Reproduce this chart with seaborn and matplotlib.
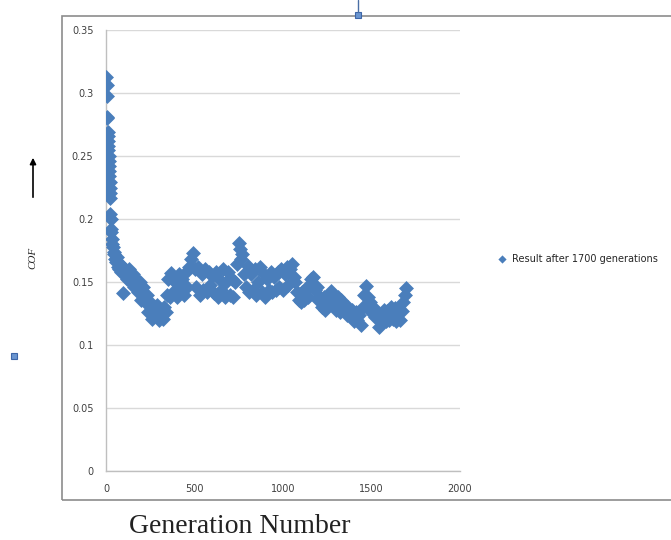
import numpy as np
import pandas as pd
import matplotlib
matplotlib.use('Agg')
import matplotlib.pyplot as plt
import seaborn as sns
from matplotlib.patches import Rectangle, FancyArrowPatch
from matplotlib.lines import Line2D

# ---------------------------------------------------------------------------
# Data read off the reference (COF per generation, sampled)
# ---------------------------------------------------------------------------
generation = [
    2, 3, 4, 6, 8, 10, 11, 12, 13, 14, 15, 16, 17, 18, 19, 20, 21, 22, 23, 25,
    26, 28, 30, 33, 36, 40, 44, 48, 52, 56, 60, 65, 70, 75, 80, 85, 90, 96, 100, 110,
    120, 130, 140, 150, 160, 170, 180, 190, 200, 210, 220, 230, 240, 250, 260, 270, 280, 290, 300, 310,
    320, 330, 340, 345, 350, 360, 370, 380, 390, 400, 410, 420, 430, 440, 450, 460, 470, 480, 490, 500,
    510, 520, 530, 540, 550, 560, 570, 580, 590, 600, 610, 620, 630, 640, 650, 660, 670, 680, 690, 700,
    710, 720, 730, 740, 750, 755, 760, 770, 780, 790, 800, 810, 820, 830, 840, 850, 860, 870, 880, 890,
    900, 910, 920, 930, 940, 950, 960, 970, 980, 990, 1000, 1010, 1020, 1030, 1040, 1050, 1060, 1070, 1080, 1090,
    1100, 1110, 1120, 1130, 1140, 1150, 1160, 1170, 1180, 1190, 1200, 1210, 1220, 1230, 1240, 1250, 1260, 1270, 1280, 1290,
    1300, 1310, 1320, 1330, 1340, 1350, 1360, 1370, 1380, 1390, 1400, 1410, 1420, 1430, 1440, 1450, 1460, 1470, 1480, 1490,
    1500, 1510, 1520, 1530, 1540, 1550, 1560, 1570, 1580, 1590, 1600, 1610, 1620, 1630, 1640, 1650, 1660, 1670, 1680, 1690,
    1695,
]
cof = [
    0.313, 0.306, 0.298, 0.281, 0.280, 0.269, 0.266, 0.262, 0.258, 0.255, 0.250, 0.246, 0.242, 0.238, 0.234, 0.229, 0.225, 0.221, 0.217, 0.204,
    0.200, 0.192, 0.190, 0.184, 0.180, 0.178, 0.172, 0.174, 0.168, 0.166, 0.170, 0.162, 0.166, 0.160, 0.164, 0.158, 0.162, 0.141, 0.156, 0.160,
    0.152, 0.160, 0.150, 0.156, 0.146, 0.152, 0.142, 0.150, 0.136, 0.146, 0.134, 0.140, 0.126, 0.134, 0.121, 0.130, 0.124, 0.132, 0.120, 0.128,
    0.121, 0.130, 0.126, 0.140, 0.152, 0.138, 0.157, 0.142, 0.150, 0.138, 0.156, 0.144, 0.152, 0.140, 0.158, 0.146, 0.162, 0.168, 0.173, 0.160,
    0.146, 0.162, 0.140, 0.156, 0.144, 0.160, 0.142, 0.158, 0.148, 0.155, 0.141, 0.158, 0.138, 0.152, 0.144, 0.160, 0.138, 0.150, 0.158, 0.140,
    0.152, 0.138, 0.150, 0.164, 0.181, 0.176, 0.168, 0.172, 0.156, 0.146, 0.163, 0.142, 0.156, 0.144, 0.160, 0.140, 0.150, 0.162, 0.142, 0.156,
    0.138, 0.152, 0.144, 0.158, 0.142, 0.154, 0.144, 0.158, 0.146, 0.160, 0.144, 0.156, 0.162, 0.148, 0.160, 0.164, 0.154, 0.150, 0.142, 0.136,
    0.134, 0.142, 0.136, 0.145, 0.138, 0.148, 0.152, 0.154, 0.144, 0.146, 0.136, 0.138, 0.130, 0.138, 0.128, 0.136, 0.140, 0.143, 0.132, 0.140,
    0.128, 0.138, 0.126, 0.136, 0.128, 0.132, 0.124, 0.130, 0.124, 0.128, 0.119, 0.126, 0.120, 0.124, 0.116, 0.130, 0.140, 0.147, 0.138, 0.134,
    0.126, 0.130, 0.122, 0.126, 0.114, 0.120, 0.118, 0.128, 0.119, 0.127, 0.120, 0.130, 0.121, 0.129, 0.119, 0.128, 0.120, 0.127, 0.134, 0.140,
    0.145,
]
x_ticks = [0, 500, 1000, 1500, 2000]
y_ticks = [0, 0.05, 0.1, 0.15, 0.2, 0.25, 0.3, 0.35]
series_label = 'Result after 1700 generations'

df = pd.DataFrame({'generation': generation, 'cof': cof})

BLUE = '#4a7ebb'
GRID = '#d9d9d9'

sns.set_style('white')
plt.rcParams['font.family'] = ['DejaVu Sans']

fig = plt.figure(figsize=(6.71, 5.40), dpi=100)
ax = fig.add_axes([106 / 671, 1 - 471 / 540, (460 - 106) / 671, (471 - 30) / 540])

sns.scatterplot(data=df, x='generation', y='cof', marker='D', s=58, color=BLUE,
                linewidth=0, label=series_label, ax=ax, zorder=3)

ax.set_xlim(0, 2000)
ax.set_ylim(0, 0.35)
ax.set_xticks(x_ticks)
ax.set_yticks(y_ticks)
ax.set_xticklabels([str(t) for t in x_ticks])
ax.set_yticklabels([f'{t:g}' for t in y_ticks])
ax.yaxis.grid(True, color=GRID, linewidth=1)
ax.set_axisbelow(True)
for side in ['top', 'right']:
    ax.spines[side].set_visible(False)
for side in ['left', 'bottom']:
    ax.spines[side].set_color('#bfbfbf')
    ax.spines[side].set_linewidth(1)
ax.tick_params(axis='both', which='major', length=4, width=1, color='#bfbfbf',
               labelsize=7, labelcolor='#404040', direction='out', pad=5)
ax.set_xlabel('')
ax.set_ylabel('')

ax.legend(loc='center left', bbox_to_anchor=(488 / 671, 1 - 259 / 540),
          bbox_transform=fig.transFigure, frameon=False, fontsize=7,
          handletextpad=0.1, borderaxespad=0, markerscale=0.55)

# chart area border
fig.add_artist(Rectangle((62 / 671, 1 - 500 / 540), 1.0, (500 - 16) / 540,
                         transform=fig.transFigure, fill=False,
                         edgecolor='#8c8c8c', linewidth=1.2))

# y axis label with arrow
fig.text(33 / 671, 1 - 258 / 540, 'COF', rotation=90, ha='center', va='center',
         fontsize=8, style='italic', family=['Liberation Serif', 'DejaVu Serif'])
fig.add_artist(FancyArrowPatch(
    (33 / 671, 1 - 200 / 540), (33 / 671, 1 - 155 / 540),
    transform=fig.transFigure, arrowstyle='-|>', mutation_scale=9,
    color='black', linewidth=1.2))

# x axis caption
fig.text(240 / 671, 1 - 533 / 540, 'Generation Number', ha='center', va='baseline',
         fontsize=20, family=['Liberation Serif', 'DejaVu Serif'], color='#222222')

# selection handles from the screenshot
fig.add_artist(Line2D([358 / 671, 358 / 671], [1.0, 1 - 12 / 540],
                      transform=fig.transFigure, color='#4a6fa5', linewidth=1))
for hx, hy in [(358, 15), (14, 356)]:
    fig.add_artist(Rectangle(((hx - 3) / 671, 1 - (hy + 3) / 540), 6 / 671, 6 / 540,
                             transform=fig.transFigure, facecolor='#6a95d0',
                             edgecolor='#3d66a8', linewidth=0.8))

fig.savefig('out.png', dpi=100)
